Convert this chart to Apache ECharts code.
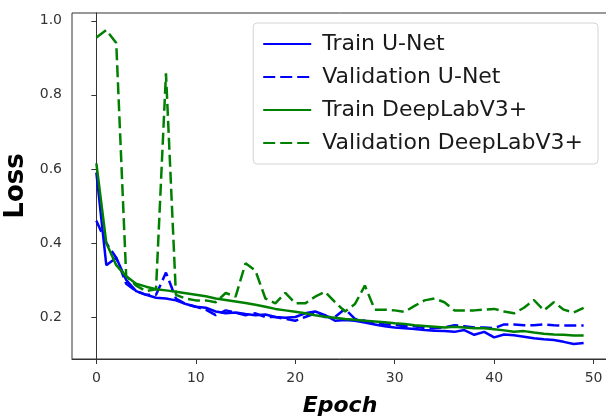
<!DOCTYPE html>
<html>
<head>
<meta charset="utf-8">
<script src="https://cdn.jsdelivr.net/npm/echarts@6/dist/echarts.min.js"></script>
<style>
  html, body { margin: 0; padding: 0; background: #fff; }
  #chart { width: 606px; height: 417px; }
</style>
</head>
<body>
<div id="chart"></div>
<script>
// loss curves, one value per epoch (0..49)
const epochs = Array.from({ length: 50 }, (_, i) => i);

const trainUnet = [
  0.59, 0.34, 0.36, 0.30, 0.27, 0.26, 0.252, 0.25, 0.245, 0.235,
  0.228, 0.225, 0.215, 0.21, 0.212, 0.208, 0.205, 0.207, 0.20, 0.198,
  0.20, 0.21, 0.215, 0.205, 0.19, 0.192, 0.19, 0.185, 0.18, 0.175,
  0.172, 0.17, 0.168, 0.165, 0.163, 0.162, 0.16, 0.165, 0.152, 0.16,
  0.145, 0.153, 0.151, 0.147, 0.143, 0.14, 0.138, 0.133, 0.127, 0.13
];
const valUnet = [
  0.46, 0.40, 0.36, 0.29, 0.27, 0.26, 0.26, 0.32, 0.25, 0.235,
  0.228, 0.22, 0.205, 0.218, 0.212, 0.205, 0.21, 0.20, 0.20, 0.195,
  0.19, 0.20, 0.21, 0.20, 0.20, 0.222, 0.195, 0.19, 0.185, 0.18,
  0.18, 0.175, 0.175, 0.17, 0.17, 0.172, 0.178, 0.175, 0.172, 0.172,
  0.17, 0.18, 0.18, 0.178, 0.178, 0.18, 0.178, 0.177, 0.177, 0.177
];
const trainDeeplab = [
  0.615, 0.40, 0.34, 0.31, 0.29, 0.282, 0.275, 0.272, 0.268, 0.264,
  0.26, 0.256, 0.25, 0.246, 0.242, 0.238, 0.233, 0.228, 0.222, 0.218,
  0.214, 0.21, 0.205, 0.201, 0.198, 0.195, 0.193, 0.19, 0.188, 0.186,
  0.183, 0.181, 0.178, 0.176, 0.174, 0.172, 0.174, 0.172, 0.17, 0.17,
  0.167, 0.164, 0.16, 0.162, 0.158, 0.155, 0.153, 0.152, 0.15, 0.15
];
const valDeeplab = [
  0.955, 0.975, 0.94, 0.31, 0.285, 0.27, 0.275, 0.858, 0.26, 0.25,
  0.245, 0.245, 0.24, 0.265, 0.255, 0.345, 0.325, 0.25, 0.237, 0.265,
  0.237, 0.237, 0.255, 0.268, 0.24, 0.215, 0.235, 0.285, 0.22, 0.22,
  0.218, 0.214, 0.23, 0.245, 0.25, 0.24, 0.218, 0.218, 0.218, 0.22,
  0.222, 0.215, 0.21, 0.225, 0.246, 0.218, 0.24, 0.22, 0.212, 0.225
];

const xTicks = [0, 10, 20, 30, 40, 50];
const yTicks = [0.2, 0.4, 0.6, 0.8, 1.0];

const FONT = 'DejaVu Sans';
const BLUE = '#0000ff';
const GREEN = '#008000';
const DASH = [12, 5];

const chart = echarts.init(document.getElementById('chart'), null, { renderer: 'canvas' });

const makeLine = (name, values, color, dashed) => ({
  name,
  type: 'line',
  data: epochs.map((e, i) => [e, values[i]]),
  showSymbol: false,
  symbol: 'none',
  animation: false,
  lineStyle: { color, width: 2.5, type: dashed ? DASH : 'solid' },
  itemStyle: { color }
});

const option = {
  backgroundColor: '#ffffff',
  animation: false,
  textStyle: { fontFamily: FONT },
  grid: {
    left: 72,
    right: -2,
    top: 13,
    bottom: 58,
    outerBoundsMode: 'none',
    show: true,
    borderColor: '#333',
    borderWidth: 1
  },
  legend: {
    orient: 'vertical',
    right: 8,
    top: 23,
    itemWidth: 48,
    itemHeight: 14,
    itemGap: 9,
    padding: [9, 15, 9, 9],
    backgroundColor: '#fff',
    borderColor: '#d5d5d5',
    borderWidth: 1,
    borderRadius: 4,
    itemStyle: { opacity: 0 },
    textStyle: { fontFamily: FONT, fontSize: 22, lineHeight: 24, color: '#1a1a1a', padding: [0, 0, 0, 6] },
    data: ['Train U-Net', 'Validation U-Net', 'Train DeepLabV3+', 'Validation DeepLabV3+']
  },
  xAxis: {
    type: 'value',
    min: -2.45,
    max: 51.45,
    name: 'Epoch',
    nameLocation: 'middle',
    nameGap: 36,
    nameTextStyle: { fontFamily: FONT, fontSize: 22, fontWeight: 'bold', fontStyle: 'italic', color: '#000' },
    axisLine: { show: true, lineStyle: { color: '#333', width: 1 } },
    axisTick: { show: true, length: 5, lineStyle: { color: '#333' }, customValues: xTicks },
    axisLabel: { fontFamily: FONT, fontSize: 14, color: '#333', margin: 12, customValues: xTicks },
    splitLine: { show: false }
  },
  yAxis: {
    type: 'value',
    min: 0.0867,
    max: 1.021,
    name: 'Loss',
    nameLocation: 'middle',
    nameRotate: 90,
    nameGap: 28,
    nameTextStyle: { fontFamily: FONT, fontSize: 26, fontWeight: 'bold', color: '#000' },
    axisLine: { show: true, lineStyle: { color: '#333', width: 1 } },
    axisTick: { show: true, length: 5, lineStyle: { color: '#333' }, customValues: yTicks },
    axisLabel: {
      fontFamily: FONT, fontSize: 14, color: '#333', margin: 10,
      customValues: yTicks,
      formatter: (v) => v.toFixed(1)
    },
    splitLine: { show: false }
  },
  series: [
    makeLine('Train U-Net', trainUnet, BLUE, false),
    makeLine('Validation U-Net', valUnet, BLUE, true),
    makeLine('Train DeepLabV3+', trainDeeplab, GREEN, false),
    makeLine('Validation DeepLabV3+', valDeeplab, GREEN, true)
  ]
};

chart.setOption(option);
</script>
</body>
</html>
